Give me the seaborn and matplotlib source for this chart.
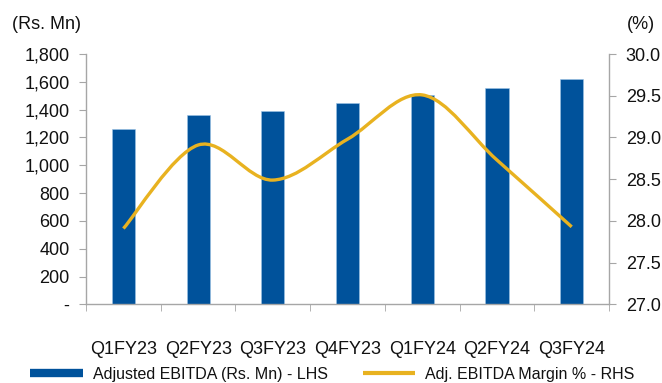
import numpy as np
import pandas as pd
import matplotlib
matplotlib.use("Agg")
import matplotlib.pyplot as plt
from matplotlib.path import Path
from matplotlib.patches import PathPatch
from matplotlib.lines import Line2D
import seaborn as sns

categories = ["Q1FY23", "Q2FY23", "Q3FY23", "Q4FY23", "Q1FY24", "Q2FY24", "Q3FY24"]
ebitda = [1262, 1362, 1391, 1449, 1506, 1556, 1621]
margin = [27.91, 28.91, 28.49, 28.98, 29.51, 28.73, 27.93]
left_ticks = [0, 200, 400, 600, 800, 1000, 1200, 1400, 1600, 1800]
left_labels = ["-", "200", "400", "600", "800", "1,000", "1,200", "1,400", "1,600", "1,800"]
right_ticks = [27.0, 27.5, 28.0, 28.5, 29.0, 29.5, 30.0]

BAR = "#00529b"
LINE = "#e8b220"
GREY = "#a6a6a6"
TXT = "#111111"

sns.set_style("white")
plt.rcParams["font.family"] = ["Liberation Sans", "DejaVu Sans"]

df = pd.DataFrame({"cat": categories, "ebitda": ebitda, "margin": margin})

fig = plt.figure(figsize=(6.62, 3.83), dpi=100)
ax = fig.add_axes([0.130, 0.2050, 0.790, 0.6540])
sns.barplot(data=df, x="cat", y="ebitda", ax=ax, color=BAR, width=0.31,
            saturation=1, edgecolor="#9dc3e6", linewidth=0.4)
ax.set_xlim(-0.5, len(categories) - 0.5)
ax.set_ylim(0, 1800)
ax.set_yticks(left_ticks)
ax.set_yticklabels(left_labels)
ax.set_xlabel("")
ax.set_ylabel("")

ax2 = ax.twinx()
ax2.set_ylim(27.0, 30.0)
ax2.set_yticks(right_ticks)
ax2.set_yticklabels([f"{t:.1f}" for t in right_ticks])

# smoothed line (Excel-style Catmull-Rom Bezier) through the data points
xs = np.arange(len(margin), dtype=float)
ys = np.array(margin, dtype=float)
verts = [(xs[0], ys[0])]
codes = [Path.MOVETO]
n = len(xs)
for i in range(n - 1):
    p0 = (xs[max(i - 1, 0)], ys[max(i - 1, 0)])
    p1 = (xs[i], ys[i])
    p2 = (xs[i + 1], ys[i + 1])
    p3 = (xs[min(i + 2, n - 1)], ys[min(i + 2, n - 1)])
    c1 = (p1[0] + (p2[0] - p0[0]) / 6, p1[1] + (p2[1] - p0[1]) / 6)
    c2 = (p2[0] - (p3[0] - p1[0]) / 6, p2[1] - (p3[1] - p1[1]) / 6)
    verts += [c1, c2, p2]
    codes += [Path.CURVE4] * 3
ax2.add_patch(PathPatch(Path(verts, codes), facecolor="none", edgecolor=LINE,
                        lw=2.4, capstyle="butt", joinstyle="round"))

for a in (ax, ax2):
    a.spines["top"].set_visible(False)
    for s in ["left", "right", "bottom"]:
        a.spines[s].set_color(GREY)
        a.spines[s].set_linewidth(1.0)
ax.spines["right"].set_visible(False)
ax2.spines["left"].set_visible(False)
ax2.spines["bottom"].set_visible(False)

FS = 13
ax.tick_params(axis="y", which="major", direction="out", length=5, color=GREY,
               labelsize=FS, pad=7, left=True, labelcolor=TXT)
ax2.tick_params(axis="y", which="major", direction="out", length=5, color=GREY,
                labelsize=FS, pad=7, right=True, labelcolor=TXT)
ax.set_xticks(np.arange(-0.5, len(categories), 1.0), minor=True)
ax.tick_params(axis="x", which="minor", direction="out", length=5, color=GREY, bottom=True)
ax.tick_params(axis="x", which="major", length=0, pad=26, labelsize=FS, labelcolor=TXT)

fig.text(0.018, 0.937, "(Rs. Mn)", fontsize=FS, color=TXT, va="center", ha="left")
fig.text(0.99, 0.937, "(%)", fontsize=FS, color=TXT, va="center", ha="right")

handles = [Line2D([0], [0], color=BAR, lw=6, solid_capstyle="butt"),
           Line2D([0], [0], color=LINE, lw=3, solid_capstyle="butt")]
labels = ["Adjusted EBITDA (Rs. Mn) - LHS", "Adj. EBITDA Margin % - RHS"]
fig.legend(handles, labels, loc="center", bbox_to_anchor=(0.502, 0.022), ncol=2,
           frameon=False, fontsize=11.5, handlelength=3.3, columnspacing=2.2,
           handletextpad=0.6, labelcolor=TXT, borderaxespad=0, borderpad=0)

fig.savefig("out.png", dpi=100)
